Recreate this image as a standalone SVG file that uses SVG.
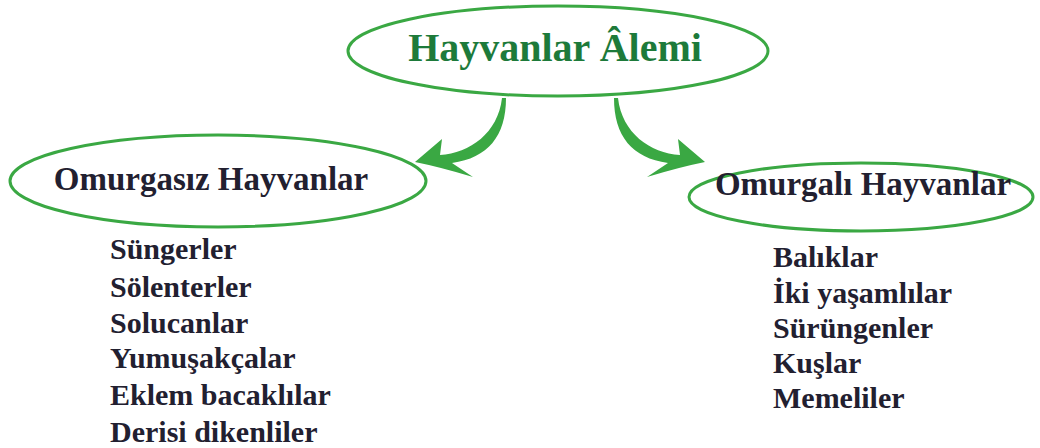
<svg xmlns="http://www.w3.org/2000/svg" width="1040" height="448" viewBox="0 0 1040 448">
<style>
.ell{fill:#fff;stroke:#3aa843;stroke-width:3}
.t{font-family:"Liberation Serif","Times New Roman",serif;font-weight:bold;fill:#222030}
.title{fill:#1d7a3a;font-size:40px}
.head{font-size:33px}
.item{font-size:30px}
.arr{fill:#3aa843}
</style>
<defs>
<path id="arrow-shape" d="M415,162 L442,139 L440,155 C470,153 498,133 502,98 L506,98 C506,136 488,158 452,163 L473,177 Q440,167 415,162 Z"/>
</defs>
<rect width="1040" height="448" fill="#fff"/>
<g id="connectors" class="arr">
<use id="arrow-left" href="#arrow-shape"/>
<use id="arrow-right" href="#arrow-shape" transform="translate(1120,0) scale(-1,1)"/>
</g>
<g id="node-root">
<ellipse class="ell" cx="558" cy="51" rx="210" ry="45"/>
<text class="t title" x="555" y="61" text-anchor="middle">Hayvanlar Âlemi</text>
</g>
<g id="node-omurgasiz">
<ellipse class="ell" cx="218" cy="181" rx="208" ry="46"/>
<text class="t head" x="211" y="190" text-anchor="middle">Omurgasız Hayvanlar</text>
</g>
<g id="node-omurgali">
<ellipse class="ell" cx="861" cy="197" rx="172" ry="34"/>
<text class="t head" x="863" y="195" text-anchor="middle">Omurgalı Hayvanlar</text>
</g>
<g id="list-omurgasiz" class="t item">
<text x="110" y="259">Süngerler</text>
<text x="110" y="297">Sölenterler</text>
<text x="110" y="333">Solucanlar</text>
<text x="110" y="368">Yumuşakçalar</text>
<text x="110" y="405">Eklem bacaklılar</text>
<text x="110" y="442">Derisi dikenliler</text>
</g>
<g id="list-omurgali" class="t item">
<text x="773" y="267">Balıklar</text>
<text x="773" y="303">İki yaşamlılar</text>
<text x="773" y="338">Sürüngenler</text>
<text x="773" y="373">Kuşlar</text>
<text x="773" y="408">Memeliler</text>
</g>
</svg>
